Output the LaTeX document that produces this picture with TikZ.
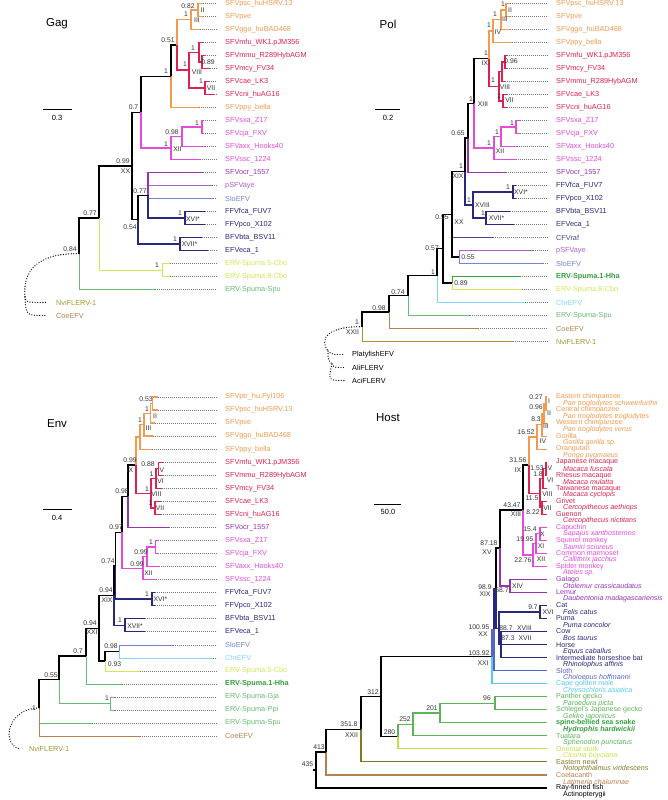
\documentclass[tikz,border=0pt]{standalone}
\usepackage{fontspec}
\setmainfont{Liberation Sans}
\definecolor{cOr}{RGB}{242,155,80}
\definecolor{cRed}{RGB}{220,35,80}
\definecolor{cMag}{RGB}{228,75,218}
\definecolor{cPur}{RGB}{150,50,180}
\definecolor{cLil}{RGB}{175,95,205}
\definecolor{cPer}{RGB}{120,130,215}
\definecolor{cNav}{RGB}{40,40,125}
\definecolor{cYel}{RGB}{212,230,85}
\definecolor{cGrn}{RGB}{105,188,115}
\definecolor{cGrD}{RGB}{50,160,60}
\definecolor{cOli}{RGB}{165,150,45}
\definecolor{cBrn}{RGB}{180,130,80}
\definecolor{cCya}{RGB}{130,215,240}
\definecolor{cCFV}{RGB}{70,70,140}
\definecolor{cBlu}{RGB}{85,100,205}
\definecolor{cCyH}{RGB}{85,200,235}
\definecolor{cGrH}{RGB}{90,180,90}
\definecolor{cYeH}{RGB}{195,225,70}
\definecolor{cOlH}{RGB}{130,120,35}
\tikzset{
 lab/.style={anchor=west, inner sep=0pt, font=\fontsize{7.3}{8}\selectfont},
 hlab/.style={anchor=west, inner sep=0pt, font=\fontsize{7.1}{7.5}\selectfont},
 sup/.style={inner sep=0pt, font=\fontsize{6.8}{7}\selectfont, text=black!80},
 ttl/.style={inner sep=0pt, font=\fontsize{11.5}{12}\selectfont},
 scl/.style={inner sep=0pt, font=\fontsize{7.5}{8}\selectfont},
 lead/.style={draw=black!55, line width=0.45pt, dash pattern=on 0.7pt off 1.3pt},
 tk/.style={line width=1.3pt},
 tn/.style={line width=0.6pt},
 hk/.style={line width=1.2pt},
 og/.style={line width=1.3pt, dash pattern=on 0pt off 2.6pt, line cap=round},
}
\newcommand\slab[4]{\node[sup] (#1) at (#2,#3) {#4};}
\newcommand\edg[3]{\draw[#1] (#2) |- (#3);}
\newcommand\gleaf[8]{%
 \coordinate (#1t) at (#2,#3);
 \node[lab,text=#5] (#1) at (#4,#3) {#6};
 \draw[lead] (#1t) -- ([xshift=-8pt]#1.west);
 \draw[#8] (#7) |- (#1t);}
\newcommand\hleaf[7]{%
 \coordinate (#1t) at (547,#2);
 \node[hlab,text=#3] (#1) at (556,#2) {#4};
 \node[hlab,text=#3,font=\fontsize{7.1}{7.5}\selectfont\itshape] (#1l) at (563,#2+6.6) {#5};
 \draw[#7] (#6) |- (#1t);}
\begin{document}
\begin{tikzpicture}[x=1pt,y=-1pt]
\fill[white] (0,0) rectangle (667,800);
\useasboundingbox (0,0) rectangle (667,800);
%================ GAG
\node[ttl] (gT) at (57,24) {Gag};
\coordinate (gS1) at (43,109); \coordinate (gS2) at (72,109);
\draw[line width=0.9pt] (gS1) -- (gS2);
\node[scl] (gSl) at (57,117.5) {0.3};
\coordinate (g-root) at (79,253.7);
\coordinate (g-077) at (99,218);
\coordinate (g-XX) at (132,165.9);
\coordinate (g-07) at (141,112.2);
\coordinate (g-1a) at (171,76.2);
\coordinate (g-051) at (177,44.9);
\coordinate (g-III) at (191,19.75);
\coordinate (g-II) at (198,10);
\coordinate (g-VIII) at (189,70.1);
\coordinate (g-MAC) at (199,52.25);
\coordinate (g-MM) at (202,62);
\coordinate (g-VII) at (205,88);
\coordinate (g-XII) at (171,148.1);
\coordinate (g-098) at (182,136.75);
\coordinate (g-SC) at (202,127);
\coordinate (g-054) at (138,219.6);
\coordinate (g-077b) at (148,195.25);
\coordinate (g-XVI) at (185,218);
\coordinate (g-XVII) at (180,244);
\coordinate (g-CBO) at (162,270);
\gleaf{g-psc}{203}{3.5}{225}{cOr}{SFVpsc\_huHSRV.13}{g-II}{tk,cOr}
\gleaf{g-pve}{203}{16.5}{225}{cOr}{SFVpve}{g-II}{tk,cOr}
\gleaf{g-ggo}{200}{29.5}{225}{cOr}{SFVggo\_huBAD468}{g-III}{tk,cOr}
\gleaf{g-mfu}{203}{42.5}{225}{cRed}{SFVmfu\_WK1.pJM356}{g-MAC}{tk,cRed}
\gleaf{g-mmu}{205}{55.5}{225}{cRed}{SFVmmu\_R289HybAGM}{g-MM}{tk,cRed}
\gleaf{g-mcy}{210}{68.5}{225}{cRed}{SFVmcy\_FV34}{g-MM}{tk,cRed}
\gleaf{g-cae}{209}{81.5}{225}{cRed}{SFVcae\_LK3}{g-VII}{tk,cRed}
\gleaf{g-cni}{214}{94.5}{225}{cRed}{SFVcni\_huAG16}{g-VII}{tk,cRed}
\gleaf{g-ppy}{199}{107.5}{225}{cOr}{SFVppy\_bella}{g-1a}{tk,cOr}
\gleaf{g-sxa}{203}{120.5}{225}{cMag}{SFVsxa\_Z17}{g-SC}{tk,cMag}
\gleaf{g-cja}{203}{133.5}{225}{cMag}{SFVcja\_FXV}{g-SC}{tk,cMag}
\gleaf{g-axx}{205}{146.5}{225}{cMag}{SFVaxx\_Hooks40}{g-098}{tk,cMag}
\gleaf{g-ssc}{200}{159.5}{225}{cMag}{SFVssc\_1224}{g-XII}{tk,cMag}
\gleaf{g-aye}{212}{185.5}{225}{cLil}{pSFVaye}{g-077b}{tn,cLil}
\gleaf{g-slo}{213}{198.5}{225}{cPer}{SloEFV}{g-077b}{tn,cPer}
\gleaf{g-ocr}{203}{172.5}{225}{cPur}{SFVocr\_1557}{g-077b}{tk,cPur}
\gleaf{g-fca}{205}{211.5}{225}{cNav}{FFVfca\_FUV7}{g-XVI}{tk,cNav}
\gleaf{g-pco}{205}{224.5}{225}{cNav}{FFVpco\_X102}{g-XVI}{tk,cNav}
\gleaf{g-bta}{202}{237.5}{225}{cNav}{BFVbta\_BSV11}{g-XVII}{tk,cNav}
\gleaf{g-eca}{208}{250.5}{225}{cNav}{EFVeca\_1}{g-XVII}{tk,cNav}
\gleaf{g-c5}{170}{263.5}{225}{cYel}{ERV-Spuma.5-Cbo}{g-CBO}{tn,cYel}
\gleaf{g-c8}{170}{276.5}{225}{cYel}{ERV-Spuma.8-Cbo}{g-CBO}{tn,cYel}
\gleaf{g-spu}{155}{289.5}{225}{cGrn}{ERV-Spuma-Spu}{g-root}{tn,cGrn}
\edg{tn,cYel}{g-077}{g-CBO}
\edg{tk}{g-root}{g-077}
\edg{tk}{g-077}{g-XX}
\edg{tk}{g-XX}{g-07}
\edg{tk}{g-XX}{g-054}
\edg{tk,cMag}{g-07}{g-XII}
\edg{tk}{g-07}{g-1a}
\edg{tk}{g-1a}{g-051}
\edg{tk,cOr}{g-051}{g-III}
\edg{tk,cRed}{g-051}{g-VIII}
\edg{tk,cOr}{g-III}{g-II}
\edg{tk,cRed}{g-VIII}{g-MAC}
\edg{tk,cRed}{g-VIII}{g-VII}
\edg{tk,cRed}{g-MAC}{g-MM}
\edg{tk,cMag}{g-XII}{g-098}
\edg{tk,cMag}{g-098}{g-SC}
\edg{tk,cNav}{g-054}{g-XVII}
\edg{tk,cNav}{g-077b}{g-XVI}
\edg{tk}{g-054}{g-077b}
\coordinate (g-og) at (25,297);
\coordinate (g-nvit) at (47,302.5);
\coordinate (g-coet) at (45,315.5);
\node[lab,text=cOli] (g-nvi) at (56,302.5) {NviFLERV-1};
\node[lab,text=cBrn] (g-coe) at (56,315.5) {CoeEFV};
\draw[og] (g-root) .. controls (45,253) and (22,265) .. (g-og);
\draw[og] (g-og) .. controls (26,302.5) .. (g-nvit);
\draw[og] (g-og) .. controls (26,315.5) .. (g-coet);
\slab{g-l1}{188}{6}{0.82}
\slab{g-l2}{202.5}{10.5}{II}
\slab{g-l3}{186}{14.5}{1}
\slab{g-l4}{197}{20.5}{III}
\slab{g-l5}{168}{40}{0.51}
\slab{g-l6}{193}{48}{1}
\slab{g-l7}{208}{62}{0.89}
\slab{g-l8}{185}{64.5}{1}
\slab{g-l9}{197}{72}{VIII}
\slab{g-l10}{201}{81}{1}
\slab{g-l11}{211}{88.5}{VII}
\slab{g-l12}{166}{71}{1}
\slab{g-l13}{197}{123}{1}
\slab{g-l14}{172}{132}{0.98}
\slab{g-l15}{166}{144}{1}
\slab{g-l16}{177.5}{149.5}{XII}
\slab{g-l17}{133.5}{107}{0.7}
\slab{g-l18}{123}{161}{0.99}
\slab{g-l19}{125.5}{171}{XX}
\slab{g-l20}{140}{191}{0.77}
\slab{g-l21}{180}{213}{1}
\slab{g-l22}{193}{219}{XVI*}
\slab{g-l23}{130}{227}{0.54}
\slab{g-l24}{175}{239}{1}
\slab{g-l25}{189.5}{244}{XVII*}
\slab{g-l26}{90}{213}{0.77}
\slab{g-l27}{157}{265}{1}
\slab{g-l28}{70}{249}{0.84}
%================ POL
\node[ttl] (pT) at (388,24) {Pol};
\coordinate (pS1) at (375,109); \coordinate (pS2) at (400,109);
\draw[line width=0.9pt] (pS1) -- (pS2);
\node[scl] (pSl) at (388,117.5) {0.2};
\coordinate (p-root) at (362,326.75);
\coordinate (p-098) at (389,312);
\coordinate (p-074) at (408,295.5);
\coordinate (p-1) at (437,275.5);
\coordinate (p-057) at (443,248.6);
\coordinate (p-089) at (452,283);
\coordinate (p-XX) at (452,214.25);
\coordinate (p-055) at (459,257);
\coordinate (p-XIX) at (465,171.5);
\coordinate (p-XVIII) at (473,205);
\coordinate (p-XVII) at (486,218);
\coordinate (p-XVI) at (513,192);
\coordinate (p-065) at (468,137.95);
\coordinate (p-XIII) at (474,103.4);
\coordinate (p-XII) at (494,148.1);
\coordinate (p-SCA) at (501,136.75);
\coordinate (p-SC) at (516,127);
\coordinate (p-IX) at (489,58.75);
\coordinate (p-IV) at (493,31.1);
\coordinate (p-III) at (501,19.75);
\coordinate (p-II) at (506,10);
\coordinate (p-VIII) at (499,86.4);
\coordinate (p-MAC) at (502,71.75);
\coordinate (p-MC) at (505,62);
\coordinate (p-VII) at (503,101);
\gleaf{p-psc}{510}{3.5}{556}{cOr}{SFVpsc\_huHSRV.13}{p-II}{tk,cOr}
\gleaf{p-pve}{510}{16.5}{556}{cOr}{SFVpve}{p-II}{tk,cOr}
\gleaf{p-ggo}{510}{29.5}{556}{cOr}{SFVggo\_huBAD468}{p-III}{tk,cOr}
\gleaf{p-ppy}{512}{42.5}{556}{cOr}{SFVppy\_bella}{p-IV}{tk,cOr}
\gleaf{p-mfu}{507}{55.5}{556}{cRed}{SFVmfu\_WK1.pJM356}{p-MC}{tk,cRed}
\gleaf{p-mcy}{507}{68.5}{556}{cRed}{SFVmcy\_FV34}{p-MC}{tk,cRed}
\gleaf{p-mmu}{505}{81.5}{556}{cRed}{SFVmmu\_R289HybAGM}{p-MAC}{tk,cRed}
\gleaf{p-cae}{507}{94.5}{556}{cRed}{SFVcae\_LK3}{p-VII}{tk,cRed}
\gleaf{p-cni}{507}{107.5}{556}{cRed}{SFVcni\_huAG16}{p-VII}{tk,cRed}
\gleaf{p-sxa}{520}{120.5}{556}{cMag}{SFVsxa\_Z17}{p-SC}{tk,cMag}
\gleaf{p-cja}{520}{133.5}{556}{cMag}{SFVcja\_FXV}{p-SC}{tk,cMag}
\gleaf{p-axx}{517}{146.5}{556}{cMag}{SFVaxx\_Hooks40}{p-SCA}{tk,cMag}
\gleaf{p-ssc}{516}{159.5}{556}{cMag}{SFVssc\_1224}{p-XII}{tk,cMag}
\gleaf{p-ocr}{506}{172.5}{556}{cPur}{SFVocr\_1557}{p-065}{tk,cPur}
\gleaf{p-fca}{516}{185.5}{556}{cNav}{FFVfca\_FUV7}{p-XVI}{tk,cNav}
\gleaf{p-pco}{516}{198.5}{556}{cNav}{FFVpco\_X102}{p-XVI}{tk,cNav}
\gleaf{p-bta}{510}{211.5}{556}{cNav}{BFVbta\_BSV11}{p-XVII}{tk,cNav}
\gleaf{p-eca}{514}{224.5}{556}{cNav}{EFVeca\_1}{p-XVII}{tk,cNav}
\gleaf{p-raf}{493}{237.5}{556}{cCFV}{CFVraf}{p-XX}{tn,cCFV}
\gleaf{p-aye}{533}{250.5}{556}{cLil}{pSFVaye}{p-055}{tn,cLil}
\gleaf{p-slo}{543}{263.5}{556}{cPer}{SloEFV}{p-055}{tn,cPer}
\gleaf{p-hha}{520}{276.5}{556}{cGrD}{\bfseries ERV-Spuma.1-Hha}{p-089}{tn,cGrD}
\gleaf{p-c8}{522}{289.5}{556}{cYel}{ERV-Spuma.8-Cbo}{p-089}{tn,cYel}
\gleaf{p-chr}{525}{302.5}{556}{cCya}{ChrEFV}{p-1}{tn,cCya}
\gleaf{p-spu}{470}{315.5}{556}{cGrn}{ERV-Spuma-Spu}{p-074}{tn,cGrn}
\gleaf{p-coe}{478}{328.5}{556}{cBrn}{CoeEFV}{p-098}{tn,cBrn}
\gleaf{p-nvi}{513}{341.5}{556}{cOli}{NviFLERV-1}{p-root}{tn,cOli}
\edg{tk}{p-root}{p-098}
\edg{tk}{p-098}{p-074}
\edg{tk}{p-074}{p-1}
\edg{tk}{p-1}{p-057}
\edg{tk}{p-057}{p-XX}
\edg{tk}{p-057}{p-089}
\edg{tk}{p-XX}{p-XIX}
\edg{tk}{p-XX}{p-055}
\edg{tk,cNav}{p-XIX}{p-XVIII}
\edg{tk}{p-XIX}{p-065}
\edg{tk,cNav}{p-XVIII}{p-XVI}
\edg{tk,cNav}{p-XVIII}{p-XVII}
\edg{tk,cMag}{p-XIII}{p-XII}
\edg{tk}{p-065}{p-XIII}
\edg{tk,cMag}{p-XII}{p-SCA}
\edg{tk,cMag}{p-SCA}{p-SC}
\edg{tk,cRed}{p-IX}{p-VIII}
\edg{tk}{p-XIII}{p-IX}
\edg{tk,cOr}{p-IX}{p-IV}
\edg{tk,cOr}{p-IV}{p-III}
\edg{tk,cOr}{p-III}{p-II}
\edg{tk,cRed}{p-VIII}{p-MAC}
\edg{tk,cRed}{p-VIII}{p-VII}
\edg{tk,cRed}{p-MAC}{p-MC}
\coordinate (p-oa) at (328,351);
\coordinate (p-ob) at (332,364);
\coordinate (p-plat) at (344,354.5);
\coordinate (p-alit) at (344,367.5);
\coordinate (p-acit) at (344,380.5);
\node[lab] (p-pla) at (352,354.5) {PlatyfishEFV};
\node[lab] (p-ali) at (352,367.5) {AliFLERV};
\node[lab] (p-aci) at (352,380.5) {AciFLERV};
\draw[og] (p-root) .. controls (330,326) and (318,338) .. (p-oa);
\draw[og] (p-oa) .. controls (332,354.5) .. (p-plat);
\draw[og] (p-oa) .. controls (328,360) .. (p-ob);
\draw[og] (p-ob) .. controls (334,367.5) .. (p-alit);
\draw[og] (p-ob) .. controls (328,380.5) .. (p-acit);
\slab{p-l1}{503}{4}{1}
\slab{p-l2}{510}{10}{II}
\slab{p-l3}{495}{14}{1}
\slab{p-l4}{505}{19.5}{III}
\slab{p-l5}{489}{25}{1}
\slab{p-l6}{498}{32}{IV}
\slab{p-l7}{486}{53}{1}
\slab{p-l8}{485}{63}{IX}
\slab{p-l9}{511}{61}{0.96}
\slab{p-l10}{493}{80}{1}
\slab{p-l11}{505}{87}{VIII}
\slab{p-l12}{499}{96}{1}
\slab{p-l13}{509.5}{100}{VII}
\slab{p-l14}{512}{123}{1}
\slab{p-l15}{497}{132}{1}
\slab{p-l16}{489}{143}{1}
\slab{p-l17}{500}{151}{XII}
\slab{p-l18}{471}{99}{1}
\slab{p-l19}{483}{104}{XIII}
\slab{p-l20}{458}{133}{0.65}
\slab{p-l21}{461}{166}{1}
\slab{p-l22}{458}{176}{XIX}
\slab{p-l23}{508}{187}{1}
\slab{p-l24}{521}{192}{XVI*}
\slab{p-l25}{469}{200}{1}
\slab{p-l26}{482.5}{205}{XVIII}
\slab{p-l27}{483}{213}{1}
\slab{p-l28}{496.5}{218}{XVII*}
\slab{p-l29}{442}{217}{0.95}
\slab{p-l30}{459}{222}{XX}
\slab{p-l31}{468}{257}{0.55}
\slab{p-l32}{432}{248}{0.57}
\slab{p-l33}{461}{283}{0.89}
\slab{p-l34}{433}{272}{1}
\slab{p-l35}{398}{292}{0.74}
\slab{p-l36}{379}{308}{0.98}
\slab{p-l37}{357}{322}{1}
\slab{p-l38}{352.5}{332}{XXII}
%================ ENV
\node[ttl] (eT) at (57,424) {Env};
\coordinate (eS1) at (43,509); \coordinate (eS2) at (72,509);
\draw[line width=0.9pt] (eS1) -- (eS2);
\node[scl] (eSl) at (57,517.5) {0.4};
\coordinate (e-root) at (39,708);
\coordinate (e-055) at (59,679.8);
\coordinate (e-GP) at (110,703.5);
\coordinate (e-07) at (86,656);
\coordinate (e-XXI) at (99,628.2);
\coordinate (e-093) at (105,661);
\coordinate (e-098) at (119,651.3);
\coordinate (e-XIX) at (114,595.4);
\coordinate (e-W) at (115.5,565.7);
\coordinate (e-XVII) at (125,625.2);
\coordinate (e-XVI) at (152,599.1);
\coordinate (e-U) at (122,532.2);
\coordinate (e-XII) at (143,568.2);
\coordinate (e-SCA) at (147,556.7);
\coordinate (e-SC) at (155.5,547);
\coordinate (e-B) at (128,496.2);
\coordinate (e-IX) at (136,465.1);
\coordinate (e-IV) at (140,437);
\coordinate (e-III) at (144,424.7);
\coordinate (e-II) at (150.5,413.3);
\coordinate (e-A) at (152.5,403.5);
\coordinate (e-VIII) at (151,493.2);
\coordinate (e-VI) at (156,478.5);
\coordinate (e-V) at (158.5,468.7);
\coordinate (e-VII) at (155,507.9);
\gleaf{e-ptr}{158}{397}{225}{cOr}{SFVptr\_hu.Pyl106}{e-A}{tk,cOr}
\gleaf{e-psc}{158}{410}{225}{cOr}{SFVpsc\_huHSRV.13}{e-A}{tk,cOr}
\gleaf{e-pve}{155}{423.1}{225}{cOr}{SFVpve}{e-II}{tk,cOr}
\gleaf{e-ggo}{153}{436.1}{225}{cOr}{SFVggo\_huBAD468}{e-III}{tk,cOr}
\gleaf{e-ppy}{152}{449.2}{225}{cOr}{SFVppy\_bella}{e-IV}{tk,cOr}
\gleaf{e-mfu}{163}{462.2}{225}{cRed}{SFVmfu\_WK1.pJM356}{e-V}{tk,cRed}
\gleaf{e-mmu}{163}{475.2}{225}{cRed}{SFVmmu\_R289HybAGM}{e-V}{tk,cRed}
\gleaf{e-mcy}{162}{488.3}{225}{cRed}{SFVmcy\_FV34}{e-VI}{tk,cRed}
\gleaf{e-cae}{161}{501.3}{225}{cRed}{SFVcae\_LK3}{e-VII}{tk,cRed}
\gleaf{e-cni}{161}{514.4}{225}{cRed}{SFVcni\_huAG16}{e-VII}{tk,cRed}
\gleaf{e-ocr}{169}{527.4}{225}{cPur}{SFVocr\_1557}{e-B}{tk,cPur}
\gleaf{e-sxa}{158}{540.4}{225}{cMag}{SFVsxa\_Z17}{e-SC}{tk,cMag}
\gleaf{e-cja}{158}{553.5}{225}{cMag}{SFVcja\_FXV}{e-SC}{tk,cMag}
\gleaf{e-axx}{159}{566.5}{225}{cMag}{SFVaxx\_Hooks40}{e-SCA}{tk,cMag}
\gleaf{e-ssc}{156}{579.6}{225}{cMag}{SFVssc\_1224}{e-XII}{tk,cMag}
\gleaf{e-fca}{155}{592.6}{225}{cNav}{FFVfca\_FUV7}{e-XVI}{tk,cNav}
\gleaf{e-pco}{155}{605.6}{225}{cNav}{FFVpco\_X102}{e-XVI}{tk,cNav}
\gleaf{e-bta}{145}{618.7}{225}{cNav}{BFVbta\_BSV11}{e-XVII}{tk,cNav}
\gleaf{e-eca}{145}{631.7}{225}{cNav}{EFVeca\_1}{e-XVII}{tk,cNav}
\gleaf{e-slo}{173}{644.8}{225}{cPer}{SloEFV}{e-098}{tn,cPer}
\gleaf{e-chr}{213}{657.8}{225}{cCya}{ChrEFV}{e-098}{tn,cCya}
\gleaf{e-c5}{140}{670.8}{225}{cYel}{ERV-Spuma.5-Cbo}{e-093}{tn,cYel}
\gleaf{e-hha}{122}{683.9}{225}{cGrD}{\bfseries ERV-Spuma.1-Hha}{e-07}{tn,cGrn}
\gleaf{e-gja}{115}{696.9}{225}{cGrn}{ERV-Spuma-Gja}{e-GP}{tn,cGrn}
\gleaf{e-ppi}{115}{710}{225}{cGrn}{ERV-Spuma-Ppi}{e-GP}{tn,cGrn}
\gleaf{e-spu}{92}{723}{225}{cGrn}{ERV-Spuma-Spu}{e-root}{tn,cGrn}
\gleaf{e-coe}{140}{736.1}{225}{cBrn}{CoeEFV}{e-root}{tn,cBrn}
\edg{tk}{e-root}{e-055}
\edg{tn,cGrn}{e-055}{e-GP}
\edg{tk}{e-055}{e-07}
\edg{tk}{e-07}{e-XXI}
\edg{tk}{e-XXI}{e-XIX}
\edg{tk}{e-XXI}{e-093}
\edg{tk}{e-093}{e-098}
\edg{tk,cNav}{e-XIX}{e-XVII}
\edg{tk}{e-XIX}{e-W}
\edg{tk,cNav}{e-W}{e-XVI}
\edg{tk}{e-W}{e-U}
\edg{tk,cMag}{e-U}{e-XII}
\edg{tk}{e-U}{e-B}
\edg{tk}{e-B}{e-IX}
\edg{tk,cMag}{e-XII}{e-SCA}
\edg{tk,cMag}{e-SCA}{e-SC}
\edg{tk,cOr}{e-IX}{e-IV}
\edg{tk,cRed}{e-IX}{e-VIII}
\edg{tk,cOr}{e-IV}{e-III}
\edg{tk,cOr}{e-III}{e-II}
\edg{tk,cOr}{e-II}{e-A}
\edg{tk,cRed}{e-VIII}{e-VI}
\edg{tk,cRed}{e-VIII}{e-VII}
\edg{tk,cRed}{e-VI}{e-V}
\coordinate (e-nvit) at (20,749.1);
\node[lab,text=cOli] (e-nvi) at (29,749.1) {NviFLERV-1};
\draw[og] (e-root) .. controls (8,708) and (0,744) .. (e-nvit);
\slab{e-l1}{146}{399}{0.53}
\slab{e-l2}{147}{409}{1}
\slab{e-l3}{155}{416}{II}
\slab{e-l4}{140}{420}{1}
\slab{e-l5}{148.5}{428.5}{III}
\slab{e-l6}{130}{460}{0.99}
\slab{e-l6b}{130}{470}{IX}
\slab{e-l7}{148}{464.5}{0.88}
\slab{e-l7b}{162}{470}{V}
\slab{e-l7c}{151.5}{474.5}{1}
\slab{e-l8}{160.5}{481}{VI}
\slab{e-l8b}{147}{489}{1}
\slab{e-l9}{156.5}{494.5}{VIII}
\slab{e-l9b}{150.5}{503.5}{1}
\slab{e-l10}{160}{508.5}{VII}
\slab{e-l10b}{122}{491.5}{0.98}
\slab{e-l10c}{116}{527.5}{0.97}
\slab{e-l11}{151}{542.5}{1}
\slab{e-l11b}{141}{552}{0.99}
\slab{e-l11c}{137}{564}{0.99}
\slab{e-l11d}{148.5}{573}{XII}
\slab{e-l11e}{108}{561}{0.74}
\slab{e-l12}{106}{590}{0.94}
\slab{e-l13}{107}{600}{XIX}
\slab{e-l14}{147}{594}{1}
\slab{e-l15}{160.5}{599.5}{XVI*}
\slab{e-l16}{120}{620.5}{1}
\slab{e-l17}{135}{626.5}{XVII*}
\slab{e-l18}{90}{623.5}{0.94}
\slab{e-l19}{92}{632.5}{XXI}
\slab{e-l20}{111}{646.5}{0.98}
\slab{e-l21}{114.5}{664.5}{0.93}
\slab{e-l22}{78}{651}{0.7}
\slab{e-l23}{51}{675.5}{0.55}
\slab{e-l24}{107}{698.5}{1}
\slab{e-l25}{34}{708}{1}
%================ HOST
\node[ttl] (hT) at (388,418) {Host};
\coordinate (hS1) at (374,504); \coordinate (hS2) at (401,504);
\draw[line width=0.9pt] (hS1) -- (hS2);
\node[scl] (hSl) at (388,511.5) {50.0};
\coordinate (h-I) at (546,403.5);
\coordinate (h-II) at (544,413.3);
\coordinate (h-III) at (542,424.7);
\coordinate (h-IV) at (537,436.9);
\coordinate (h-V) at (546,468.7);
\coordinate (h-VI) at (543,478.5);
\coordinate (h-VII) at (542,507.8);
\coordinate (h-VIII) at (540,493.1);
\coordinate (h-IX) at (529,465);
\coordinate (h-X) at (540,533.8);
\coordinate (h-XI) at (536,543.6);
\coordinate (h-XII) at (533,555);
\coordinate (h-XIII) at (523,510);
\coordinate (h-XIV) at (510,586);
\coordinate (h-XV) at (500,548);
\coordinate (h-XVI) at (540,612);
\coordinate (h-XVII) at (501,644.6);
\coordinate (h-XVIII) at (499,628.3);
\coordinate (h-XIX) at (496,588.2);
\coordinate (h-XX) at (494,629.4);
\coordinate (h-XXI) at (492,656.6);
\coordinate (h-96) at (495,703.2);
\coordinate (h-201) at (440,713);
\coordinate (h-252) at (413,724.4);
\coordinate (h-280) at (398,736.6);
\coordinate (h-312) at (381,696.6);
\coordinate (h-XXII) at (361,729.2);
\coordinate (h-413) at (326,752);
\coordinate (h-435) at (316,770);
\coordinate (h-r0) at (313,770);
\hleaf{h-a1}{397}{cOr}{Eastern chimpanzee}{Pan troglodytes schweinfurthii}{h-I}{hk,cOr}
\hleaf{h-a2}{410}{cOr}{Central chimpanzee}{Pan troglodytes troglodytes}{h-I}{hk,cOr}
\hleaf{h-a3}{423.1}{cOr}{Western chimpanzee}{Pan troglodytes verus}{h-II}{hk,cOr}
\hleaf{h-a4}{436.1}{cOr}{Gorilla}{Gorilla gorilla sp.}{h-III}{hk,cOr}
\hleaf{h-a5}{449.1}{cOr}{Orangutan}{Pongo pygmaeus}{h-IV}{hk,cOr}
\hleaf{h-b1}{462.2}{cRed}{Japanese macaque}{Macaca fuscata}{h-V}{hk,cRed}
\hleaf{h-b2}{475.2}{cRed}{Rhesus macaque}{Macaca mulatta}{h-V}{hk,cRed}
\hleaf{h-b3}{488.2}{cRed}{Taiwanese macaque}{Macaca cyclopis}{h-VI}{hk,cRed}
\hleaf{h-b4}{501.2}{cRed}{Grivet}{Cercopithecus aethiops}{h-VII}{hk,cRed}
\hleaf{h-b5}{514.3}{cRed}{Guenon}{Cercopithecus nictitans}{h-VII}{hk,cRed}
\hleaf{h-c1}{527.3}{cMag}{Capuchin}{Sapajus xanthosternos}{h-X}{hk,cMag}
\hleaf{h-c2}{540.3}{cMag}{Squirrel monkey}{Saimiri sciureus}{h-X}{hk,cMag}
\hleaf{h-c3}{553.4}{cMag}{Common marmoset}{Callithrix jacchus}{h-XI}{hk,cMag}
\hleaf{h-c4}{566.4}{cMag}{Spider monkey}{Ateles sp.}{h-XII}{hk,cMag}
\hleaf{h-d1}{579.4}{cPur}{Galago}{Otolemur crassicaudatus}{h-XIV}{hk,cPur}
\hleaf{h-d2}{592.5}{cPur}{Lemur}{Daubentonia madagascariensis}{h-XIV}{hk,cPur}
\hleaf{h-e1}{605.5}{cNav}{Cat}{Felis catus}{h-XVI}{hk,cNav}
\hleaf{h-e2}{618.5}{cNav}{Puma}{Puma concolor}{h-XVI}{hk,cNav}
\hleaf{h-e3}{631.5}{cNav}{Cow}{Bos taurus}{h-XVII}{hk,cNav}
\hleaf{h-e4}{644.6}{cNav}{Horse}{Equus caballus}{h-XVII}{hk,cNav}
\hleaf{h-e5}{657.6}{cNav}{Intermediate horseshoe bat}{Rhinolophus affinis}{h-XVII}{hk,cNav}
\hleaf{h-f1}{670.6}{cBlu}{Sloth}{Choloepus hoffmanni}{h-XX}{hk,cBlu}
\hleaf{h-f2}{683.7}{cCyH}{Cape golden mole}{Chrysochloris asiatica}{h-XXI}{hk,cCyH}
\hleaf{h-g1}{696.7}{cGrH}{Panther gecko}{Paroedura picta}{h-96}{hk,cGrH}
\hleaf{h-g2}{709.7}{cGrH}{Schlegel's Japanese gecko}{Gekko japonicus}{h-96}{hk,cGrH}
\hleaf{h-g3}{722.8}{cGrD}{\bfseries spine-bellied sea snake}{\bfseries Hydrophis hardwickii}{h-201}{hk,cGrH}
\hleaf{h-g4}{735.8}{cGrH}{Tuatara}{Sphenodon punctatus}{h-252}{hk,cGrH}
\hleaf{h-g5}{748.8}{cYeH}{Oriental stork}{Ciconia boyciana}{h-280}{hk,cYeH}
\hleaf{h-g6}{761.8}{cOlH}{Eastern newt}{Notophthalmus viridescens}{h-XXII}{hk,cOlH}
\hleaf{h-g7}{774.9}{cBrn}{Coelacanth}{Latimeria chalumnae}{h-413}{hk,cBrn}
\hleaf{h-g8}{787.9}{black}{Ray-finned fish}{\upshape Actinopterygii}{h-435}{hk}
\draw[hk] (h-r0) -- (h-435);
\edg{hk}{h-435}{h-413}
\edg{hk}{h-413}{h-XXII}
\edg{hk}{h-XXII}{h-312}
\edg{hk}{h-312}{h-XXI}
\edg{hk}{h-312}{h-280}
\edg{hk,cGrH}{h-280}{h-252}
\edg{hk,cGrH}{h-252}{h-201}
\edg{hk,cGrH}{h-201}{h-96}
\edg{hk,cBlu}{h-XXI}{h-XX}
\edg{hk,cNav}{h-XX}{h-XIX}
\edg{hk,cNav}{h-XIX}{h-XVIII}
\edg{hk,cNav}{h-XVIII}{h-XVI}
\edg{hk,cNav}{h-XVIII}{h-XVII}
\edg{hk}{h-XIX}{h-XV}
\edg{hk,cPur}{h-XV}{h-XIV}
\edg{hk}{h-XV}{h-XIII}
\edg{hk,cMag}{h-XIII}{h-XII}
\edg{hk,cMag}{h-XII}{h-XI}
\edg{hk,cMag}{h-XI}{h-X}
\edg{hk}{h-XIII}{h-IX}
\edg{hk,cOr}{h-IX}{h-IV}
\edg{hk,cOr}{h-IV}{h-III}
\edg{hk,cOr}{h-III}{h-II}
\edg{hk,cOr}{h-II}{h-I}
\edg{hk,cRed}{h-IX}{h-VIII}
\edg{hk,cRed}{h-VIII}{h-VI}
\edg{hk,cRed}{h-VIII}{h-VII}
\edg{hk,cRed}{h-VI}{h-V}
\slab{h-l1}{536}{397}{0.27}
\slab{h-l2}{549}{401.5}{I}
\slab{h-l3}{536}{407}{0.96}
\slab{h-l4}{549}{413}{II}
\slab{h-l5}{536}{419}{8.3}
\slab{h-l6}{546}{426}{III}
\slab{h-l7}{526}{432}{16.52}
\slab{h-l8}{543}{441}{IV}
\slab{h-l9}{518}{460}{31.56}
\slab{h-l10}{518}{470}{IX}
\slab{h-l11}{537}{468}{1.53}
\slab{h-l12}{550}{468}{V}
\slab{h-l13}{538}{474}{1.8}
\slab{h-l14}{550}{480}{VI}
\slab{h-l15}{532}{498}{11.5}
\slab{h-l16}{547.5}{494}{VIII}
\slab{h-l17}{533}{512}{8.22}
\slab{h-l18}{547.5}{508}{VII}
\slab{h-l19}{512}{505}{43.47}
\slab{h-l20}{516}{514}{XIII}
\slab{h-l21}{530}{529}{15.4}
\slab{h-l22}{542.5}{534}{X}
\slab{h-l23}{525}{539}{19.95}
\slab{h-l24}{541}{546}{XI}
\slab{h-l25}{523}{560}{22.76}
\slab{h-l26}{541}{559}{XII}
\slab{h-l27}{489}{543}{87.18}
\slab{h-l28}{487}{552}{XV}
\slab{h-l29}{485}{587}{98.9}
\slab{h-l30}{485}{594}{XIX}
\slab{h-l31}{502}{590}{68.7}
\slab{h-l32}{517.5}{586}{XIV}
\slab{h-l33}{533}{607}{9.7}
\slab{h-l34}{548}{612}{XVI}
\slab{h-l35}{479}{627}{100.95}
\slab{h-l36}{483}{634}{XX}
\slab{h-l37}{506}{628}{88.7}
\slab{h-l38}{524.5}{628}{XVIII}
\slab{h-l39}{508}{638}{87.3}
\slab{h-l40}{525}{638}{XVII}
\slab{h-l41}{479}{653}{103.92}
\slab{h-l42}{483}{663}{XXI}
\slab{h-l43}{487}{698}{96}
\slab{h-l44}{432}{708}{201}
\slab{h-l45}{405}{719}{252}
\slab{h-l46}{389.5}{732}{280}
\slab{h-l47}{373}{692}{312}
\slab{h-l48}{349}{724}{351.8}
\slab{h-l49}{351.5}{735}{XXII}
\slab{h-l50}{319}{747}{413}
\slab{h-l51}{307.5}{764}{435}
\end{tikzpicture}
\end{document}
